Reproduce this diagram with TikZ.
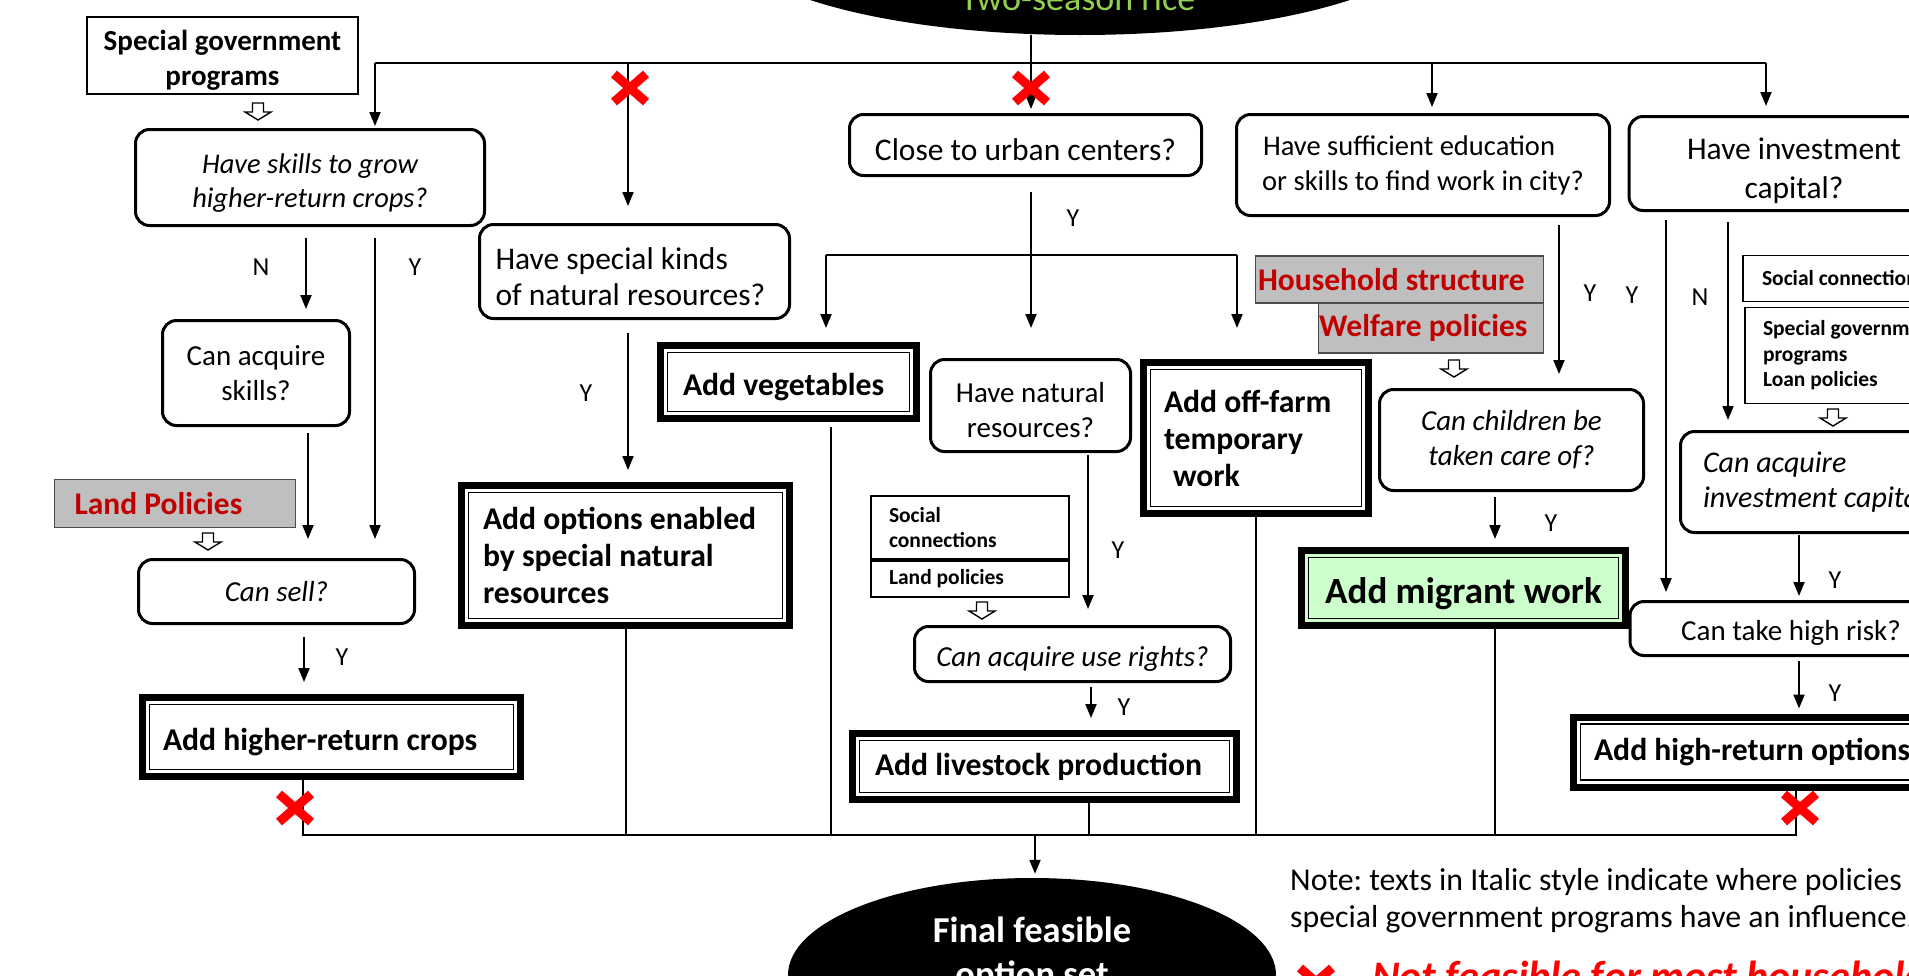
\documentclass[tikz,border=0pt]{standalone}
\usepackage{fontspec}
\setmainfont{Carlito}
\usetikzlibrary{arrows.meta,shapes.geometric}
\definecolor{gtext}{HTML}{92D050}
\definecolor{rtext}{HTML}{C00000}
\definecolor{gfill}{HTML}{BFBFBF}
\definecolor{mfill}{HTML}{CCFFCC}
\newcommand{\myfs}[2]{\fontsize{#1}{#2}\selectfont\frenchspacing}
\newcommand{\lowstrut}[1]{\rule{0pt}{#1em}}
\frenchspacing
\begin{document}
\begin{tikzpicture}[x=1pt,y=-1pt,
  qbox/.style={draw, line width=3, rounded corners=14, inner sep=0pt, align=center},
  abox/.style={draw, line width=7, inner ysep=0pt, font=\bfseries\myfs{31.7}{37},
    path picture={\draw[line width=1.5] ([shift={(7,7)}]path picture bounding box.north west) rectangle ([shift={(-7,-7)}]path picture bounding box.south east);}},
  gbox/.style={draw=black!70, line width=1.8, fill=gfill, text=rtext, font=\bfseries\myfs{31.5}{36}, inner ysep=0pt, align=flush left},
  sbox/.style={draw, line width=1.8, font=\bfseries\myfs{21.5}{25.5}, inner ysep=0pt, align=flush left},
  low/.style={execute at begin node={\rule{0pt}{#1em}}},
  low/.default=1,
  arr/.style={line width=2, -{Triangle[length=14pt,width=11pt]}},
  thinl/.style={line width=1.5},
  lab/.style={font=\myfs{26}{30}, inner sep=0pt},
  xmark/.pic={\draw[red, line width=9] (-16,-14) -- (16,14) (-16,14) -- (16,-14);},
  holarrow/.pic={\draw[line width=1.4, fill=white] (-5.5,0) -- (5.5,0) -- (5.5,9) -- (13,9) -- (0,17) -- (-13,9) -- (-5.5,9) -- cycle;}
]
\useasboundingbox (0,0) rectangle (1909,975);
\clip (0,0) rectangle (1909,975);

% ellipses
\node[ellipse, fill=black, minimum width=710, minimum height=200, inner sep=0pt] (top) at (1080,-65) {};
\node[text=gtext, font=\myfs{36}{40}, anchor=base, inner sep=0pt] (toptext) at (1078,10) {Two-season rice};
\node[ellipse, fill=black, minimum width=488, minimum height=194, inner sep=0pt] (fin) at (1032,975) {};
\node[text=white, font=\bfseries\myfs{36.5}{44}, align=center, inner sep=0pt] (fintext) at (1032,955) {Final feasible\\option set};

% left column
\node[qbox, sharp corners, line width=2, font=\bfseries\myfs{29}{35}, minimum width=271, minimum height=77] (sgp) at (222.5,55.5) {\lowstrut{1}Special government\\programs};
\node[qbox, font=\itshape\myfs{28.5}{34}, minimum width=349, minimum height=96] (q1) at (310,177.5) {\lowstrut{1.05}Have skills to grow\\higher-return crops?};
\node[qbox, font=\myfs{29}{35}, minimum width=187, minimum height=105] (q2) at (256,373) {Can acquire\\skills?};
\node[gbox, minimum width=241, minimum height=48, inner xsep=20, text width=201] (lp) at (175,503.5) {Land Policies};
\node[qbox, font=\itshape\myfs{29}{35}, minimum width=276, minimum height=64] (q3) at (276.5,591.5) {Can sell?};
\node[abox, low, minimum width=378, minimum height=79, inner xsep=20.5, text width=337, align=flush left] (a1) at (331.5,737) {Add higher-return crops};

% middle
\node[qbox, low, font=\myfs{31.5}{36}, minimum width=310, minimum height=94, align=flush left, inner xsep=16, text width=278] (q4) at (634.5,271.5) {Have special kinds\\of natural resources?};
\node[abox, minimum width=328, minimum height=140, inner xsep=21.5, text width=285, align=flush left] (a2) at (625.5,555.5) {Add options enabled\\by special natural\\resources};
\node[qbox, low, font=\myfs{31.5}{36}, minimum width=352, minimum height=61] (q5) at (1025.5,145) {Close to urban centers?};
\node[abox, low, minimum width=256, minimum height=73, inner xsep=22.5, text width=211, align=flush left] (a3) at (788.5,382) {Add vegetables};
\node[qbox, font=\myfs{29}{35}, minimum width=200, minimum height=92] (q6) at (1030.5,405.5) {\lowstrut{1}Have natural\\resources?};
\node[sbox, minimum width=198, minimum height=63, inner xsep=18, text width=162] (sc1a) at (970,527.5) {Social\\connections};
\node[sbox, anchor=north, minimum width=198, minimum height=36, inner xsep=18, text width=162] (sc1b) at (sc1a.south) {Land policies};
\node[qbox, low, font=\itshape\myfs{29}{35}, minimum width=316, minimum height=55] (q7) at (1072.5,654) {Can acquire use rights?};
\node[abox, minimum width=384, minimum height=66, inner xsep=22.5, text width=339, align=flush left] (a4) at (1044.5,766.5) {Add livestock production};
\node[abox, minimum width=225, minimum height=151, inner xsep=20.5, text width=184, align=flush left] (a5) at (1256,438) {Add off-farm\\temporary\\\hspace*{9pt}work};

% right
\node[qbox, font=\myfs{28.5}{35}, minimum width=373, minimum height=101] (q8) at (1423,165) {\hspace*{-28pt}Have sufficient education\\or skills to find work in city?};
\node[gbox, minimum width=288, minimum height=47, inner xsep=2.5, text width=283] (hs) at (1399.5,279.5) {Household structure};
\node[gbox, minimum width=225, minimum height=50, inner xsep=0.5, text width=224] (wp) at (1431,328) {Welfare policies};
\node[qbox, font=\itshape\myfs{29}{35}, minimum width=264, minimum height=101] (q9) at (1511.5,440) {Can children be\\taken care of?};
\node[abox, low, fill=mfill, font=\bfseries\myfs{37}{42}, minimum width=324, minimum height=75, align=center] (a6) at (1463.5,588) {Add migrant work};
\node[qbox, font=\myfs{31.5}{39}, minimum width=330, minimum height=94] (q10) at (1794,163.5) {\lowstrut{1.15}Have investment\\capital?};
\node[sbox, minimum width=216, minimum height=46, inner xsep=19, text width=178] (sc2) at (1851,278.5) {Social connections};
\node[sbox, minimum width=226, minimum height=96, inner xsep=18, text width=190] (sg2) at (1858,355.5) {Special government\\programs\\Loan policies};
\node[qbox, font=\itshape\myfs{30}{35}, minimum width=300, minimum height=101, align=flush left, inner xsep=22.5, text width=255] (q11) at (1830.5,482) {Can acquire\\investment capital?};
\node[qbox, low, font=\myfs{29}{35}, minimum width=322, minimum height=54] (q12) at (1791,628.5) {Can take high risk?};
\node[abox, minimum width=370, minimum height=70, inner xsep=20.5, text width=329, align=flush left] (a7) at (1758.5,752) {Add high-return options};

% top distribution line
\coordinate (t1) at (375,63);
\coordinate (t2) at (628,63);
\coordinate (t3) at (1031,63);
\coordinate (t4) at (1432,63);
\coordinate (t5) at (1766,63);
\draw[line width=2] (t1) -- (t5);
\draw[arr, shorten >=2] (t1) -- (t1 |- q1.north);
\draw[arr, shorten >=17] (t2) -- (t2 |- q4.north);
\draw[arr, shorten >=4] (top.south -| t3) -- (q5.north -| t3);
\draw[arr, shorten >=6] (t4) -- (t4 |- q8.north);
\draw[arr, shorten >=9] (t5) -- (t5 |- q10.north);
\pic at (630,88) {xmark};
\pic at (1031,88) {xmark};

% left column connectors
\coordinate (xn) at (306,0);
\coordinate (xy1) at (375,0);
\coordinate (xq2) at (308,0);
\coordinate (xq3) at (304,0);
\draw[arr, shorten <=11, shorten >=10] (q1.south -| xn) -- (q2.north -| xn);
\node[lab] (ln1) at (261,267) {N};
\draw[arr, shorten <=11, shorten >=19] (q1.south -| xy1) -- (q3.north -| xy1);
\node[lab] (ly1) at (415,267) {Y};
\draw[arr, shorten <=6, shorten >=19] (q2.south -| xq2) -- (q3.north -| xq2);
\draw[arr, shorten <=12, shorten >=12] (q3.south -| xq3) -- (a1.north -| xq3);
\node[lab] (ly2) at (342,657) {Y};
\pic at (258,103) {holarrow};
\pic at (208,533) {holarrow};

% middle connectors
\coordinate (x4) at (628,0);
\draw[arr, shorten <=13, shorten >=12] (q4.south -| x4) -- (a2.north -| x4);
\node[lab] (ly3) at (586,393) {Y};
\coordinate (br) at (1031,255);
\coordinate (brl) at (826,255);
\coordinate (brr) at (1237,255);
\draw[arr, shorten <=15, shorten >=30] (q5.south -| br) -- (q6.north -| br);
\draw[thinl] (brl) -- (brr);
\draw[arr, shorten >=14] (brl) -- (a3.north -| brl);
\draw[arr, shorten >=31] (brr) -- (a5.north -| brr);
\node[lab] (ly4) at (1073,218) {Y};
\coordinate (x6) at (1088,0);
\draw[arr, shorten <=2, shorten >=16] (q6.south -| x6) -- (q7.north -| x6);
\node[lab] (ly5) at (1118,550) {Y};
\coordinate (x7) at (1091,0);
\draw[arr, shorten <=4, shorten >=12] (q7.south -| x7) -- (a4.north -| x7);
\node[lab] (ly6) at (1124,707) {Y};
\pic at (982,602) {holarrow};

% right connectors
\coordinate (x8) at (1559,0);
\draw[arr, shorten <=8, shorten >=14] (q8.south -| x8) -- (q9.north -| x8);
\node[lab] (ly7) at (1590,293) {Y};
\coordinate (x9) at (1495,0);
\draw[arr, shorten <=5, shorten >=8] (q9.south -| x9) -- (a6.north -| x9);
\node[lab] (ly8) at (1551,523) {Y};
\coordinate (x10a) at (1666,0);
\coordinate (x10b) at (1728,0);
\draw[arr, shorten <=8, shorten >=8] (q10.south -| x10a) -- (q12.north -| x10a);
\node[lab] (ly9) at (1632,295) {Y};
\draw[arr, shorten <=10, shorten >=10] (q10.south -| x10b) -- (q11.north -| x10b);
\node[lab] (ln2) at (1700,297) {N};
\coordinate (x11) at (1799,0);
\draw[arr, shorten <=1, shorten >=4] (q11.south -| x11) -- (q12.north -| x11);
\node[lab] (ly10) at (1835,580) {Y};
\draw[arr, shorten <=4, shorten >=5] (q12.south -| x11) -- (a7.north -| x11);
\node[lab] (ly11) at (1835,693) {Y};
\pic at (1454,360) {holarrow};
\pic at (1833,409) {holarrow};

% bottom collection line
\coordinate (b1) at (303,835);
\coordinate (b2) at (626,835);
\coordinate (b3) at (831,835);
\coordinate (b4) at (1089,835);
\coordinate (b5) at (1256,835);
\coordinate (b6) at (1495,835);
\coordinate (b7) at (1796,835);
\coordinate (bf) at (1035,835);
\draw[thinl] (a1.south -| b1) -- (b1) -- (b7) -- (a7.south -| b7);
\draw[thinl] (a2.south -| b2) -- (b2);
\draw[thinl, shorten <=5] (a3.south -| b3) -- (b3);
\draw[thinl] (a4.south -| b4) -- (b4);
\draw[thinl] (a5.south -| b5) -- (b5);
\draw[thinl] (a6.south -| b6) -- (b6);
\draw[arr, shorten >=4] (bf) -- (fin.north -| bf);
\pic at (295,808) {xmark};
\pic at (1800,808) {xmark};

% notes
\node[anchor=base west, font=\myfs{31.8}{37}, inner sep=0pt] (note1) at (1290,890) {Note: texts in Italic style indicate where policies or};
\node[anchor=base west, font=\myfs{31.8}{37}, inner sep=0pt] (note2) at (1290,927) {special government programs have an influence.};
\pic at (1316,982) {xmark};
\node[anchor=base west, text=red, font=\bfseries\itshape\myfs{42}{48}, inner sep=0pt] (legend) at (1372,990) {Not feasible for most households};
\end{tikzpicture}
\end{document}
